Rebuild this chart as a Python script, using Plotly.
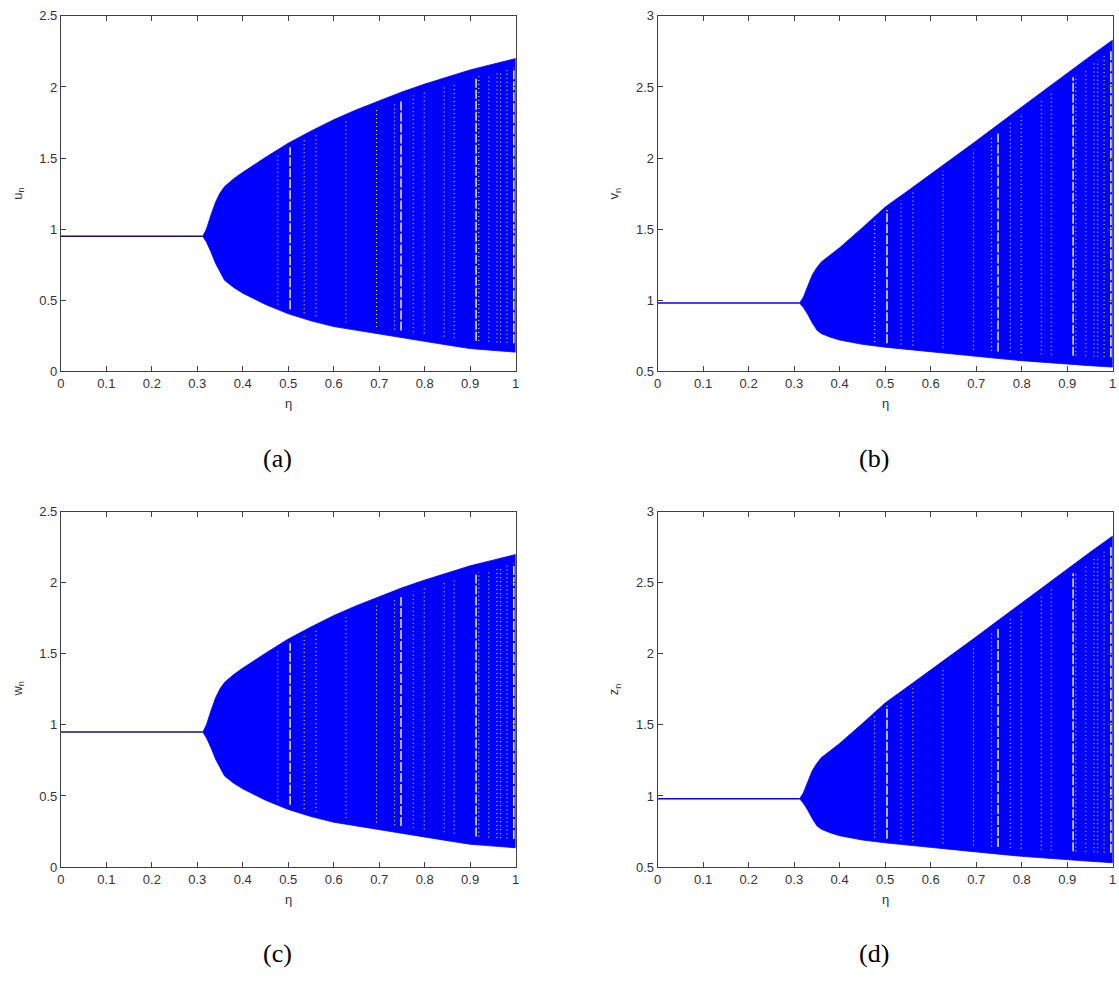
import numpy as np
import plotly.graph_objects as go

# ---- data -------------------------------------------------------------
# steady state before the bifurcation (eta < eta_c)
eta_c = 0.312
u_fixed = 0.95
v_fixed = 0.98

# envelope of the chaotic band for eta >= eta_c
eta_env = [0.312, 0.32, 0.33, 0.34, 0.35, 0.36, 0.38, 0.40, 0.45, 0.50,
           0.55, 0.60, 0.65, 0.70, 0.75, 0.80, 0.85, 0.90, 0.95, 1.00]
u_upper = [0.95, 1.00, 1.10, 1.19, 1.255, 1.30, 1.355, 1.40, 1.505, 1.605,
           1.69, 1.77, 1.84, 1.905, 1.965, 2.02, 2.07, 2.12, 2.16, 2.20]
u_lower = [0.95, 0.91, 0.84, 0.76, 0.70, 0.64, 0.59, 0.55, 0.47, 0.405,
           0.355, 0.315, 0.285, 0.26, 0.235, 0.21, 0.185, 0.16, 0.145, 0.135]
v_upper = [0.98, 1.02, 1.10, 1.18, 1.23, 1.27, 1.32, 1.37, 1.51, 1.655,
           1.77, 1.885, 2.00, 2.12, 2.24, 2.36, 2.48, 2.60, 2.715, 2.83]
v_lower = [0.98, 0.95, 0.90, 0.84, 0.79, 0.765, 0.74, 0.72, 0.69, 0.67,
           0.65, 0.635, 0.62, 0.605, 0.59, 0.575, 0.562, 0.55, 0.54, 0.53]

# w and z behave exactly like u and v
w_upper, w_lower, w_fixed = u_upper, u_lower, u_fixed
z_upper, z_lower, z_fixed = v_upper, v_lower, v_fixed

# periodic windows inside the chaotic band (eta, strong window?)
window_eta = [0.477, 0.504, 0.535, 0.561, 0.627, 0.694, 0.734, 0.748, 0.775,
              0.799, 0.843, 0.865, 0.913, 0.919, 0.941, 0.959, 0.967, 0.981, 0.996]
window_strong = [0, 1, 0, 0, 0, 0, 0, 1, 0,
                 0, 0, 0, 1, 0, 0, 0, 0, 0, 1]

x_ticks = [0, 0.1, 0.2, 0.3, 0.4, 0.5, 0.6, 0.7, 0.8, 0.9, 1]
x_ticktext = ["0", "0.1", "0.2", "0.3", "0.4", "0.5", "0.6", "0.7", "0.8", "0.9", "1"]
y_ticks_uw = [0, 0.5, 1, 1.5, 2, 2.5]
y_ticktext_uw = ["0", "0.5", "1", "1.5", "2", "2.5"]
y_ticks_vz = [0.5, 1, 1.5, 2, 2.5, 3]
y_ticktext_vz = ["0.5", "1", "1.5", "2", "2.5", "3"]

panels = [
    # (upper, lower, fixed, y-range, y ticks, y ticktext, ylabel, caption, line colour)
    (u_upper, u_lower, u_fixed, [0, 2.5], y_ticks_uw, y_ticktext_uw, "u<sub>n</sub>", "(a)", "#14145a"),
    (v_upper, v_lower, v_fixed, [0.5, 3], y_ticks_vz, y_ticktext_vz, "v<sub>n</sub>", "(b)", "#0000ff"),
    (w_upper, w_lower, w_fixed, [0, 2.5], y_ticks_uw, y_ticktext_uw, "w<sub>n</sub>", "(c)", "#14145a"),
    (z_upper, z_lower, z_fixed, [0.5, 3], y_ticks_vz, y_ticktext_vz, "z<sub>n</sub>", "(d)", "#0000ff"),
]

# ---- layout geometry (pixels of a 1119 x 983 page) -------------------
W, H = 1119, 983
x_px = [(57.3, 515.3), (658.3, 1116.7)]
y_px = [(9.0, 370.0), (512.7, 873.3)]

BLUE = "#0000ff"
AXIS_COL = "#404040"
TICK_FONT = dict(family="Liberation Sans, Arial, sans-serif", size=13, color="#333333")

fig = go.Figure()
annotations = []

for i, (up, lo, fixed, yr, yt, ytt, ylab, cap, line_col) in enumerate(panels):
    row, col = divmod(i, 2)
    xa = "x" if i == 0 else f"x{i + 1}"
    ya = "y" if i == 0 else f"y{i + 1}"
    x0, x1 = x_px[col]
    y0, y1 = y_px[row]

    # chaotic band
    fig.add_trace(go.Scatter(
        x=list(eta_env) + list(eta_env[::-1]),
        y=list(up) + list(lo[::-1]),
        fill="toself", fillcolor=BLUE, mode="lines",
        line=dict(color=BLUE, width=0.8),
        xaxis=xa, yaxis=ya, showlegend=False, hoverinfo="skip"))

    # periodic windows show up as white streaks
    for e, strong in zip(window_eta, window_strong):
        top = float(np.interp(e, eta_env, up))
        bot = float(np.interp(e, eta_env, lo))
        pad = 0.03 * (top - bot)
        fig.add_trace(go.Scatter(
            x=[e, e], y=[bot + pad, top - pad], mode="lines",
            line=dict(color="white", width=1.4 if strong else 1,
                      dash="9px,2px" if strong else "1px,3px"),
            xaxis=xa, yaxis=ya, showlegend=False, hoverinfo="skip"))

    # stable fixed point
    fig.add_trace(go.Scatter(
        x=[0, eta_c], y=[fixed, fixed], mode="lines",
        line=dict(color=line_col, width=1.5),
        xaxis=xa, yaxis=ya, showlegend=False, hoverinfo="skip"))

    axis_common = dict(showline=True, linecolor=AXIS_COL, linewidth=1, mirror="ticks",
                       ticks="inside", ticklen=5, tickcolor=AXIS_COL, tickwidth=1,
                       showgrid=False, zeroline=False, tickfont=TICK_FONT)
    fig.layout[("xaxis" if i == 0 else f"xaxis{i + 1}")] = dict(
        domain=[x0 / W, x1 / W], range=[0, 1], anchor=ya,
        tickmode="array", tickvals=x_ticks, ticktext=x_ticktext, **axis_common)
    fig.layout[("yaxis" if i == 0 else f"yaxis{i + 1}")] = dict(
        domain=[1 - y1 / H, 1 - y0 / H], range=yr, anchor=xa,
        tickmode="array", tickvals=yt, ticktext=ytt, **axis_common)

    xc = (x0 + x1) / 2
    # x-axis title
    annotations.append(dict(xref="paper", yref="paper", x=xc / W, y=1 - (y1 + 33) / H,
                            text="η", showarrow=False, font=TICK_FONT,
                            xanchor="center", yanchor="middle"))
    # y-axis title
    annotations.append(dict(xref="paper", yref="paper", x=(x0 - 43) / W, y=1 - ((y0 + y1) / 2) / H,
                            text=ylab, textangle=-90, showarrow=False, font=TICK_FONT,
                            xanchor="center", yanchor="middle"))
    # panel caption
    cap_x = 275 if col == 0 else 876
    annotations.append(dict(xref="paper", yref="paper", x=cap_x / W, y=1 - (y1 + 88) / H,
                            text=cap, showarrow=False,
                            font=dict(family="Liberation Serif, Times New Roman, serif",
                                      size=26, color="black"),
                            xanchor="center", yanchor="middle"))

fig.update_layout(width=W, height=H, margin=dict(l=0, r=0, t=0, b=0),
                  paper_bgcolor="white", plot_bgcolor="white",
                  annotations=annotations)

fig.write_html("out.html")
